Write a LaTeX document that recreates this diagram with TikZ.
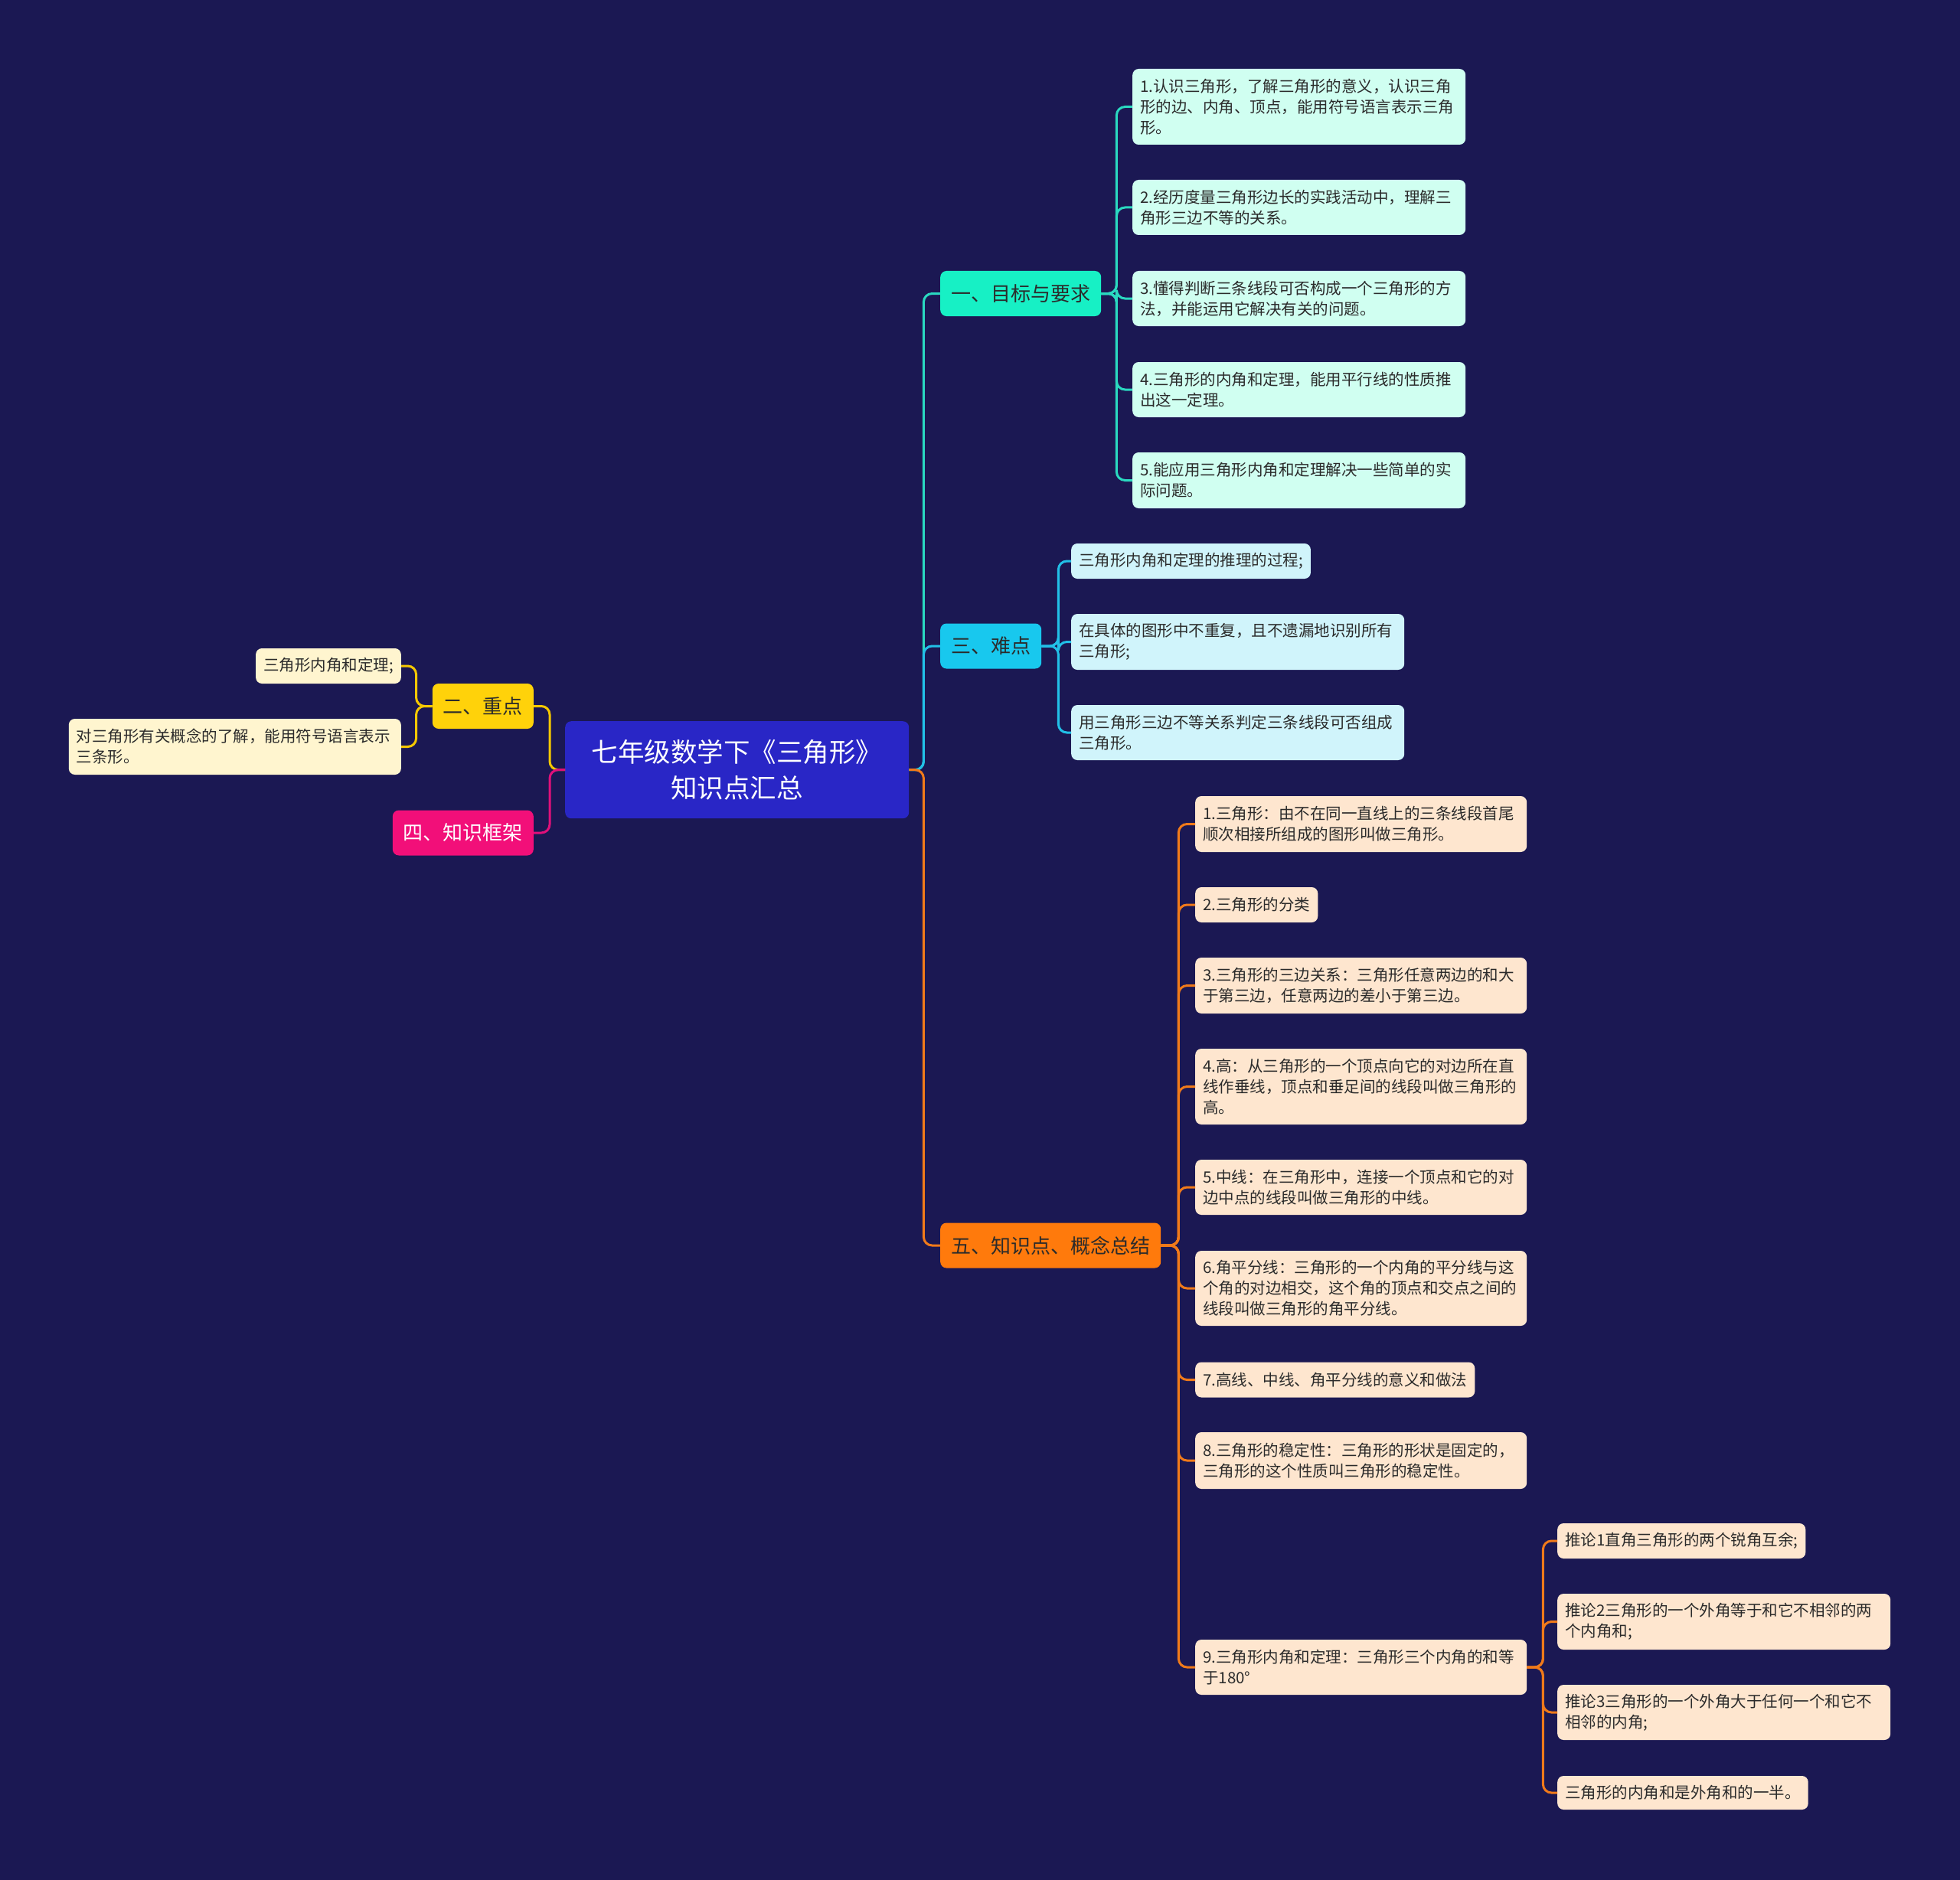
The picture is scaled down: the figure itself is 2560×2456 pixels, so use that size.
\documentclass[tikz,border=0pt]{standalone}
\usepackage{fontspec}
\setmainfont{Noto Sans CJK SC}
\definecolor{bg}{HTML}{1B1853}
\definecolor{rootc}{HTML}{2926C6}
\definecolor{tealc}{HTML}{17F0C5}
\definecolor{teall}{HTML}{2AD8C0}
\definecolor{cyanc}{HTML}{18C8EE}
\definecolor{cyanl}{HTML}{22C0E8}
\definecolor{orangec}{HTML}{FF7A0C}
\definecolor{orangel}{HTML}{F07A1A}
\definecolor{yellowc}{HTML}{FFD20A}
\definecolor{yellowl}{HTML}{F5C800}
\definecolor{magc}{HTML}{F20F79}
\definecolor{magl}{HTML}{E0107A}
\definecolor{mint}{HTML}{D0FFF1}
\definecolor{ice}{HTML}{D0F4FB}
\definecolor{peach}{HTML}{FEE6CF}
\definecolor{cream}{HTML}{FFF5CF}
\definecolor{ink}{HTML}{2B2B2B}
\tikzset{
  leaf/.style={anchor=west, rounded corners=8pt, inner xsep=10pt, inner ysep=2pt,
    align=left, font=\fontsize{20.5}{27}\selectfont, text=ink},
  leafl/.style={leaf, anchor=east},
  topic/.style={anchor=west, rounded corners=8pt, inner xsep=14pt, inner ysep=2pt,
    minimum height=59pt, align=center, font=\fontsize{26}{32}\selectfont, text=ink},
  topicl/.style={topic, anchor=east},
  link/.style={line width=3pt, rounded corners=11pt},
}
\begin{document}
\begin{tikzpicture}[x=1pt,y=-1pt]
\fill[bg] (0,0) rectangle (2560,2456);
\useasboundingbox (0,0) rectangle (2560,2456);

% root
\node[anchor=north west, fill=rootc, rounded corners=8pt, minimum width=449pt, minimum height=127pt,
  inner sep=2pt, align=center, text=white, font=\fontsize{34.5}{47}\selectfont]
  (root) at (738,942) {七年级数学下《三角形》\\知识点汇总};

% level 1
\node[topic, fill=tealc] (g1) at (1228,383.5) {一、目标与要求};
\node[topic, fill=cyanc] (g3) at (1228,844) {三、难点};
\node[topic, fill=orangec] (g5) at (1228,1627) {五、知识点、概念总结};
\node[topicl, fill=yellowc] (g2) at (697,922.5) {二、重点};
\node[topicl, fill=magc, text=white] (g4) at (697,1088) {四、知识框架};

% goals
\node[leaf, fill=mint, text width=415pt, minimum height=99pt] (a1) at (1479,139.5)
 {1.认识三角形，了解三角形的意义，认识三角\\形的边、内角、顶点，能用符号语言表示三角\\形。};
\node[leaf, fill=mint, text width=415pt, minimum height=72pt] (a2) at (1479,271)
 {2.经历度量三角形边长的实践活动中，理解三\\角形三边不等的关系。};
\node[leaf, fill=mint, text width=415pt, minimum height=72pt] (a3) at (1479,390)
 {3.懂得判断三条线段可否构成一个三角形的方\\法，并能运用它解决有关的问题。};
\node[leaf, fill=mint, text width=415pt, minimum height=72pt] (a4) at (1479,509)
 {4.三角形的内角和定理，能用平行线的性质推\\出这一定理。};
\node[leaf, fill=mint, text width=415pt, minimum height=73pt] (a5) at (1479,627.5)
 {5.能应用三角形内角和定理解决一些简单的实\\际问题。};

% difficulties
\node[leaf, fill=ice, minimum height=46pt] (b1) at (1399,733) {三角形内角和定理的推理的过程;};
\node[leaf, fill=ice, text width=415pt, minimum height=73pt] (b2) at (1399,838.5)
 {在具体的图形中不重复，且不遗漏地识别所有\\三角形;};
\node[leaf, fill=ice, text width=415pt, minimum height=72pt] (b3) at (1399,957)
 {用三角形三边不等关系判定三条线段可否组成\\三角形。};

% key points
\node[leafl, fill=cream, minimum height=46pt] (k1) at (524,870) {三角形内角和定理;};
\node[leafl, fill=cream, text width=414pt, minimum height=73pt] (k2) at (524,975.5)
 {对三角形有关概念的了解，能用符号语言表示\\三条形。};

% summary
\node[leaf, fill=peach, text width=413pt, minimum height=73pt] (c1) at (1561,1076.5)
 {1.三角形：由不在同一直线上的三条线段首尾\\顺次相接所组成的图形叫做三角形。};
\node[leaf, fill=peach, minimum height=46pt] (c2) at (1561,1182) {2.三角形的分类};
\node[leaf, fill=peach, text width=413pt, minimum height=73pt] (c3) at (1561,1287.5)
 {3.三角形的三边关系：三角形任意两边的和大\\于第三边，任意两边的差小于第三边。};
\node[leaf, fill=peach, text width=413pt, minimum height=99pt] (c4) at (1561,1419.5)
 {4.高：从三角形的一个顶点向它的对边所在直\\线作垂线，顶点和垂足间的线段叫做三角形的\\高。};
\node[leaf, fill=peach, text width=413pt, minimum height=72pt] (c5) at (1561,1551)
 {5.中线：在三角形中，连接一个顶点和它的对\\边中点的线段叫做三角形的中线。};
\node[leaf, fill=peach, text width=413pt, minimum height=98pt] (c6) at (1561,1683)
 {6.角平分线：三角形的一个内角的平分线与这\\个角的对边相交，这个角的顶点和交点之间的\\线段叫做三角形的角平分线。};
\node[leaf, fill=peach, minimum height=46pt] (c7) at (1561,1802.5) {7.高线、中线、角平分线的意义和做法};
\node[leaf, fill=peach, text width=413pt, minimum height=74pt] (c8) at (1561,1908)
 {8.三角形的稳定性：三角形的形状是固定的，\\三角形的这个性质叫三角形的稳定性。};
\node[leaf, fill=peach, text width=413pt, minimum height=72pt] (c9) at (1561,2178)
 {9.三角形内角和定理：三角形三个内角的和等\\于180°};

% corollaries
\node[leaf, fill=peach, minimum height=46pt] (d1) at (2034,2013) {推论1直角三角形的两个锐角互余;};
\node[leaf, fill=peach, text width=415pt, minimum height=73pt] (d2) at (2034,2118.5)
 {推论2三角形的一个外角等于和它不相邻的两\\个内角和;};
\node[leaf, fill=peach, text width=415pt, minimum height=72pt] (d3) at (2034,2237)
 {推论3三角形的一个外角大于任何一个和它不\\相邻的内角;};
\node[leaf, fill=peach, minimum height=44pt] (d4) at (2034,2342) {三角形的内角和是外角和的一半。};

% connectors: root
\draw[link, teall] (root.east) -- ++(19,0) |- (g1.west);
\draw[link, cyanl] (root.east) -- ++(19,0) |- (g3.west);
\draw[link, orangel] (root.east) -- ++(19,0) |- (g5.west);
\draw[link, yellowl] (root.west) -- ++(-20,0) |- (g2.east);
\draw[link, magl] (root.west) -- ++(-20,0) |- (g4.east);

% goals
\foreach \n in {a1,a2,a3,a4,a5}
  \draw[link, teall] (g1.east) -- ++(20,0) |- (\n.west);
% difficulties
\foreach \n in {b1,b2,b3}
  \draw[link, cyanl] (g3.east) -- ++(22,0) |- (\n.west);
% key points
\foreach \n in {k1,k2}
  \draw[link, yellowl] (g2.west) -- ++(-21,0) |- (\n.east);
% summary
\foreach \n in {c1,c2,c3,c4,c5,c6,c7,c8,c9}
  \draw[link, orangel] (g5.east) -- ++(23,0) |- (\n.west);
% corollaries
\foreach \n in {d1,d2,d3,d4}
  \draw[link, orangel] (c9.east) -- ++(21,0) |- (\n.west);
\end{tikzpicture}
\end{document}
